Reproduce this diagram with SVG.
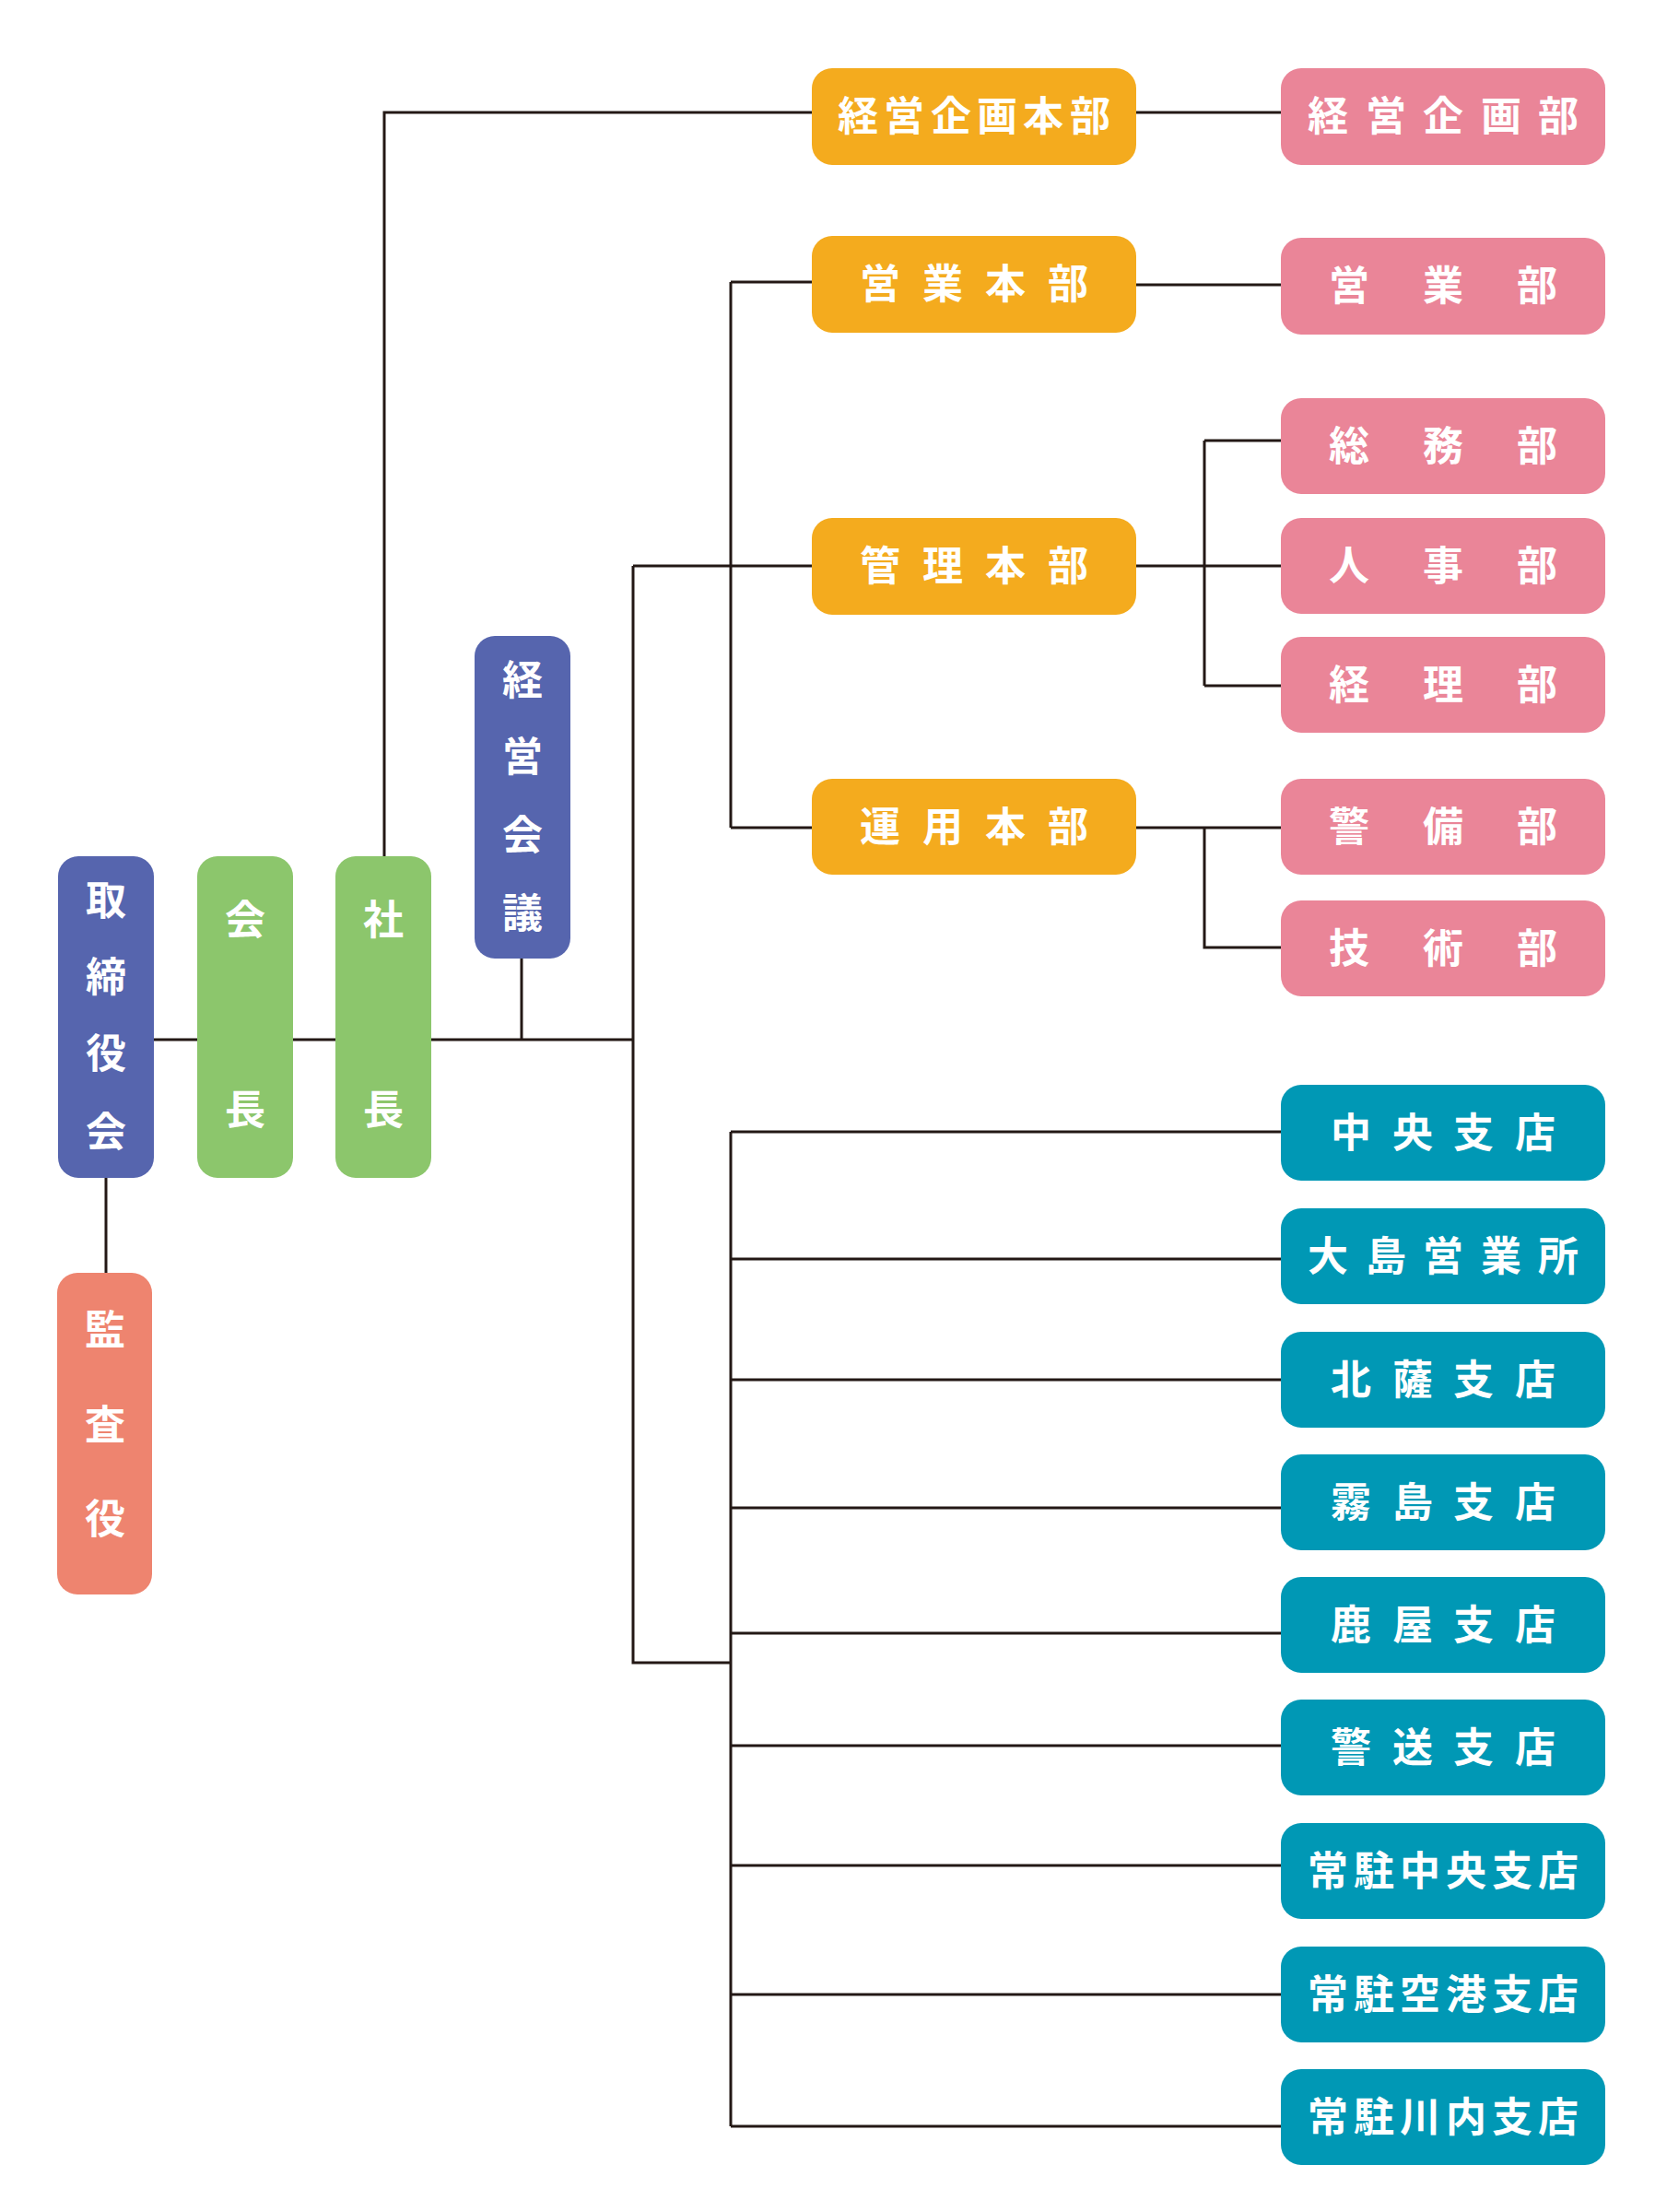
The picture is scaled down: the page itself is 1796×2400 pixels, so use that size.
<svg xmlns="http://www.w3.org/2000/svg" width="1796" height="2400" viewBox="0 0 1796 2400">
<style>
text{font-family:"Noto Sans CJK JP","Noto Sans CJK SC",sans-serif;font-size:44px;font-weight:700;fill:#fff;text-anchor:middle}
.c{fill:none;stroke:#231815;stroke-width:3}
.o{fill:#F4AB1E}.p{fill:#EA8598}.t{fill:#0098B5}.b{fill:#5665AE}.g{fill:#8CC66C}.s{fill:#EE846F}
</style>
<rect width="1796" height="2400" fill="#fff"/>
<g id="connectors" class="c">
<path d="M167 1128H214M318 1128H364M468 1128H687M566 1040V1128M417 929V122H881M115 1278V1381"/>
<path d="M687 614V1804H793M687 614H881M793 306V898M793 306H881M793 898H881M1233 122H1390M1233 309H1390M1233 614H1390M1307 478V744M1307 478H1390M1307 744H1390M1233 898H1390M1307 898V1028H1390"/>
<path d="M793 1228V2307M793 1228H1390M793 1366H1390M793 1497H1390M793 1636H1390M793 1772H1390M793 1894H1390M793 2024H1390M793 2164H1390M793 2307H1390"/>
</g>
<g id="torishimariyakukai"><rect class="b" x="63" y="929" width="104" height="349" rx="22"/><text x="115" y="993">取</text><text x="115" y="1076">締</text><text x="115" y="1159">役</text><text x="115" y="1244">会</text></g>
<g id="kaicho"><rect class="g" x="214" y="929" width="104" height="349" rx="22"/><text x="266" y="1014">会</text><text x="266" y="1220">長</text></g>
<g id="shacho"><rect class="g" x="364" y="929" width="104" height="349" rx="22"/><text x="416" y="1014">社</text><text x="416" y="1220">長</text></g>
<g id="keieikaigi"><rect class="b" x="515" y="690" width="104" height="350" rx="22"/><text x="567" y="754">経</text><text x="567" y="837">営</text><text x="567" y="922">会</text><text x="567" y="1007">議</text></g>
<g id="kansayaku"><rect class="s" x="62" y="1381" width="103" height="349" rx="22"/><text x="114" y="1459">監</text><text x="114" y="1562">査</text><text x="114" y="1664">役</text></g>
<g id="o1"><rect class="o" x="881" y="74" width="352" height="105" rx="22"/><text x="931 981 1032 1082 1132 1183" y="142">経営企画本部</text></g>
<g id="o2"><rect class="o" x="881" y="256" width="352" height="105" rx="22"/><text x="955 1023 1091 1159" y="324">営業本部</text></g>
<g id="o3"><rect class="o" x="881" y="562" width="352" height="105" rx="22"/><text x="955 1023 1091 1159" y="630">管理本部</text></g>
<g id="o4"><rect class="o" x="881" y="845" width="352" height="104" rx="22"/><text x="955 1023 1091 1159" y="913">運用本部</text></g>
<g id="p1"><rect class="p" x="1390" y="74" width="352" height="105" rx="22"/><text x="1441 1504 1566 1629 1691" y="142">経営企画部</text></g>
<g id="p2"><rect class="p" x="1390" y="258" width="352" height="105" rx="22"/><text x="1464 1566 1668" y="326">営業部</text></g>
<g id="p3"><rect class="p" x="1390" y="432" width="352" height="104" rx="22"/><text x="1464 1566 1668" y="500">総務部</text></g>
<g id="p4"><rect class="p" x="1390" y="562" width="352" height="104" rx="22"/><text x="1464 1566 1668" y="630">人事部</text></g>
<g id="p5"><rect class="p" x="1390" y="691" width="352" height="104" rx="22"/><text x="1464 1566 1668" y="759">経理部</text></g>
<g id="p6"><rect class="p" x="1390" y="845" width="352" height="104" rx="22"/><text x="1464 1566 1668" y="913">警備部</text></g>
<g id="p7"><rect class="p" x="1390" y="977" width="352" height="104" rx="22"/><text x="1464 1566 1668" y="1045">技術部</text></g>
<g id="t1"><rect class="t" x="1390" y="1177" width="352" height="104" rx="22"/><text x="1466 1533 1599 1666" y="1245">中央支店</text></g>
<g id="t2"><rect class="t" x="1390" y="1311" width="352" height="104" rx="22"/><text x="1441 1504 1566 1629 1691" y="1379">大島営業所</text></g>
<g id="t3"><rect class="t" x="1390" y="1445" width="352" height="104" rx="22"/><text x="1466 1533 1599 1666" y="1513">北薩支店</text></g>
<g id="t4"><rect class="t" x="1390" y="1578" width="352" height="104" rx="22"/><text x="1466 1533 1599 1666" y="1646">霧島支店</text></g>
<g id="t5"><rect class="t" x="1390" y="1711" width="352" height="104" rx="22"/><text x="1466 1533 1599 1666" y="1779">鹿屋支店</text></g>
<g id="t6"><rect class="t" x="1390" y="1844" width="352" height="104" rx="22"/><text x="1466 1533 1599 1666" y="1912">警送支店</text></g>
<g id="t7"><rect class="t" x="1390" y="1978" width="352" height="104" rx="22"/><text x="1441 1491 1541 1591 1641 1691" y="2046">常駐中央支店</text></g>
<g id="t8"><rect class="t" x="1390" y="2112" width="352" height="104" rx="22"/><text x="1441 1491 1541 1591 1641 1691" y="2180">常駐空港支店</text></g>
<g id="t9"><rect class="t" x="1390" y="2245" width="352" height="104" rx="22"/><text x="1441 1491 1541 1591 1641 1691" y="2313">常駐川内支店</text></g>
</svg>
